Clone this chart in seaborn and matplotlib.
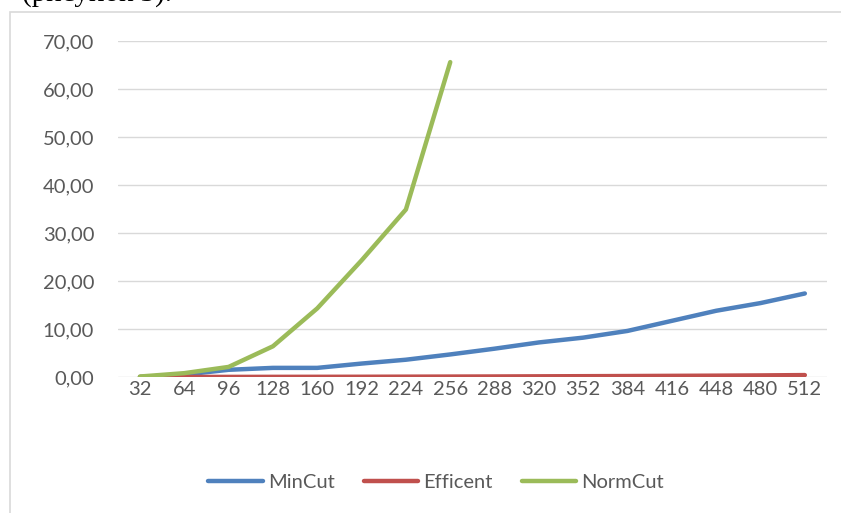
import matplotlib
matplotlib.use("Agg")
import matplotlib.pyplot as plt
import matplotlib.patches as mpatches
import numpy as np
import pandas as pd
import seaborn as sns

# Problem sizes on the category axis
sizes = [32, 64, 96, 128, 160, 192, 224, 256, 288, 320, 352, 384, 416, 448, 480, 512]

# Running times per algorithm
mincut = [0.0, 0.5, 1.5, 1.9, 1.9, 2.8, 3.6, 4.7, 5.9, 7.2, 8.2, 9.6, 11.7, 13.8, 15.4, 17.4]
efficent = [0.0, 0.01, 0.02, 0.03, 0.04, 0.05, 0.07, 0.09, 0.11, 0.14, 0.17, 0.2, 0.24, 0.28, 0.33, 0.4]
normcut = [0.1, 0.8, 2.1, 6.4, 14.3, 24.3, 34.9, 65.6]

y_ticks = [0, 10, 20, 30, 40, 50, 60, 70]

series_names = ["MinCut", "Efficent", "NormCut"]
colors = {"MinCut": "#4F81BD", "Efficent": "#C0504D", "NormCut": "#9BBB59"}

rows = []
for name, vals in zip(series_names, [mincut, efficent, normcut]):
    for i, v in enumerate(vals):
        rows.append({"pos": i, "size": sizes[i], "value": v, "series": name})
df = pd.DataFrame(rows)

sns.set_theme(style="white")
plt.rcParams["font.family"] = ["Lato", "DejaVu Sans"]

FS = 14.5
LW = 3.2

fig = plt.figure(figsize=(8.41, 5.13), dpi=100)
ax = fig.add_axes([117.8 / 841, 136 / 513, (827 - 117.8) / 841, (377 - 41) / 513])

sns.lineplot(data=df, x="pos", y="value", hue="series", hue_order=series_names,
             palette=colors, linewidth=LW, ax=ax, legend=False,
             solid_capstyle="round", sort=False)

ax.set_xlim(-0.5, len(sizes) - 0.5)
ax.set_ylim(0, 70)
ax.set_yticks(y_ticks)
ax.set_yticklabels([f"{t:.2f}".replace(".", ",") for t in y_ticks])
ax.set_xticks(range(len(sizes)))
ax.set_xticklabels([str(s) for s in sizes])
ax.set_xlabel("")
ax.set_ylabel("")
ax.grid(axis="y", color="#D9D9D9", linewidth=1.0)
ax.set_axisbelow(True)
for s in ax.spines.values():
    s.set_visible(False)
ax.tick_params(axis="both", length=0, labelsize=FS, labelcolor="#595959")
ax.tick_params(axis="y", pad=17)
ax.tick_params(axis="x", pad=3)

# Legend below the plot area
handles = [plt.Line2D([0], [0], color=colors[n], linewidth=LW, solid_capstyle="round")
           for n in series_names]
fig.legend(handles, series_names, loc="center", bbox_to_anchor=(436 / 841, 1 - 482 / 513),
           ncol=3, frameon=False, handlelength=2.7, handletextpad=0.25,
           columnspacing=1.45, prop={"size": FS}, labelcolor="#595959")

# Chart frame
frame = mpatches.Rectangle((9.5 / 841, -0.1), 1.2, 1 - 12.5 / 513 + 0.1,
                           transform=fig.transFigure, fill=False,
                           edgecolor="#D9D9D9", linewidth=1.2)
fig.patches.append(frame)

# Caption text running above the chart
fig.text(172 / 841, 1 - 1 / 513, "(рисунок 3).", ha="right", va="baseline",
         fontsize=21, family="Liberation Serif", color="black")

fig.savefig("out.png", dpi=100)
